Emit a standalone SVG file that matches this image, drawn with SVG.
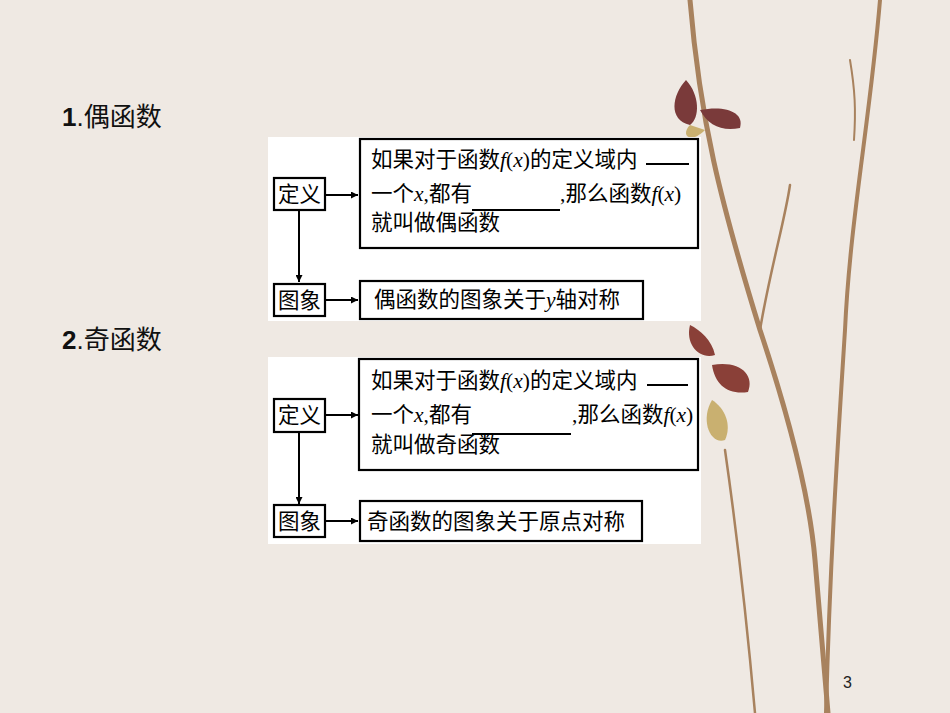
<svg xmlns="http://www.w3.org/2000/svg" width="950" height="713" viewBox="0 0 950 713">
<defs>
<marker id="ah" viewBox="0 0 10 10" refX="10" refY="5" markerWidth="9" markerHeight="7" orient="auto" markerUnits="userSpaceOnUse"><path d="M0,0L10,5L0,10z" fill="#000"/></marker>
<style>
.b{fill:#fff;stroke:#000;stroke-width:2.2}
.t{font-family:"Liberation Serif","Noto Sans CJK SC",serif;font-size:21.5px;fill:#000}
.h{font-family:"Liberation Sans","Noto Sans CJK SC",sans-serif;font-size:26px;fill:#111}
.c{stroke:#000;stroke-width:2;fill:none;marker-end:url(#ah)}
.br{fill:none;stroke:#a8825e;stroke-linecap:round}
</style>
</defs>
<rect width="950" height="713" fill="#efe9e3"/>
<g id="branches">
<path class="br" stroke-width="5" d="M690,0 C700,120 720,200 760,330 C790,420 810,500 815,560 C820,620 825,680 828,713"/>
<path class="br" stroke-width="4" d="M880,0 C870,120 850,220 845,330 C838,440 830,560 826,713"/>
<path class="br" stroke-width="2.5" d="M760,330 C770,270 785,220 790,185"/>
<path class="br" stroke-width="2.5" d="M725,450 C735,520 745,600 755,713"/>
<path class="br" stroke-width="2" d="M850,60 C855,90 856,110 854,140"/>
<path fill="#7a3a3a" d="M686,80 C672,95 668,120 690,125 C700,118 700,95 686,80z M700,110 C725,105 745,112 740,128 C722,132 708,125 700,110z"/>
<path fill="#c9b070" d="M690,125 C680,135 690,145 705,130z"/>
<path fill="#8a4038" d="M690,325 C685,345 700,360 715,355 C712,340 700,330 690,325z M712,365 C740,360 755,375 748,392 C728,395 715,385 712,365z"/>
<path fill="#c9b070" d="M712,400 C700,420 710,445 725,440 C732,425 725,408 712,400z"/>
</g>
<rect x="268" y="137" width="433" height="184" fill="#fff"/>
<rect x="268" y="357" width="433" height="187" fill="#fff"/>
<text class="h" x="62" y="126"><tspan font-weight="bold">1</tspan>.偶函数</text>
<text class="h" x="62" y="349"><tspan font-weight="bold">2</tspan>.奇函数</text>
<g id="connectors">
<line class="c" x1="325" y1="195" x2="358" y2="195"/>
<line class="c" x1="299" y1="210" x2="299" y2="282"/>
<line class="c" x1="325" y1="300" x2="358" y2="300"/>
<line class="c" x1="325" y1="415" x2="358" y2="415"/>
<line class="c" x1="299" y1="432" x2="299" y2="504"/>
<line class="c" x1="325" y1="521" x2="358" y2="521"/>
</g>
<g id="even-def"><rect class="b" x="274" y="178" width="51" height="32"/><text class="t" x="278" y="202">定义</text></g>
<g id="even-box"><rect class="b" x="360" y="139" width="338" height="109"/>
<text class="t" x="371" y="167">如果对于函数<tspan font-style="italic">f</tspan>(<tspan font-style="italic">x</tspan>)的定义域内</text>
<line x1="646" y1="164" x2="689" y2="164" stroke="#000" stroke-width="1.8"/>
<text class="t" x="371" y="201">一个<tspan font-style="italic">x</tspan>,都有<tspan x="560">,那么函数<tspan font-style="italic">f</tspan>(<tspan font-style="italic">x</tspan>)</tspan></text>
<line x1="472" y1="210" x2="560" y2="210" stroke="#000" stroke-width="1.8"/>
<text class="t" x="371" y="230">就叫做偶函数</text></g>
<g id="even-img"><rect class="b" x="274" y="284" width="51" height="32"/><text class="t" x="278" y="308">图象</text></g>
<g id="even-sym"><rect class="b" x="360" y="281" width="283" height="38"/><text class="t" x="374" y="307">偶函数的图象关于<tspan font-style="italic">y</tspan>轴对称</text></g>
<g id="odd-def"><rect class="b" x="274" y="399" width="51" height="33"/><text class="t" x="278" y="423">定义</text></g>
<g id="odd-box"><rect class="b" x="359" y="359" width="339" height="111"/>
<text class="t" x="371" y="388">如果对于函数<tspan font-style="italic">f</tspan>(<tspan font-style="italic">x</tspan>)的定义域内</text>
<line x1="647" y1="385" x2="688" y2="385" stroke="#000" stroke-width="1.8"/>
<text class="t" x="371" y="422">一个<tspan font-style="italic">x</tspan>,都有<tspan x="572">,那么函数<tspan font-style="italic">f</tspan>(<tspan font-style="italic">x</tspan>)</tspan></text>
<line x1="472" y1="434" x2="571" y2="434" stroke="#000" stroke-width="1.8"/>
<text class="t" x="371" y="452">就叫做奇函数</text></g>
<g id="odd-img"><rect class="b" x="274" y="505" width="51" height="32"/><text class="t" x="278" y="529">图象</text></g>
<g id="odd-sym"><rect class="b" x="360" y="501" width="282" height="40"/><text class="t" x="367" y="529">奇函数的图象关于原点对称</text></g>
<text x="843" y="688" font-family="Liberation Sans,sans-serif" font-size="16" fill="#222">3</text>
</svg>
